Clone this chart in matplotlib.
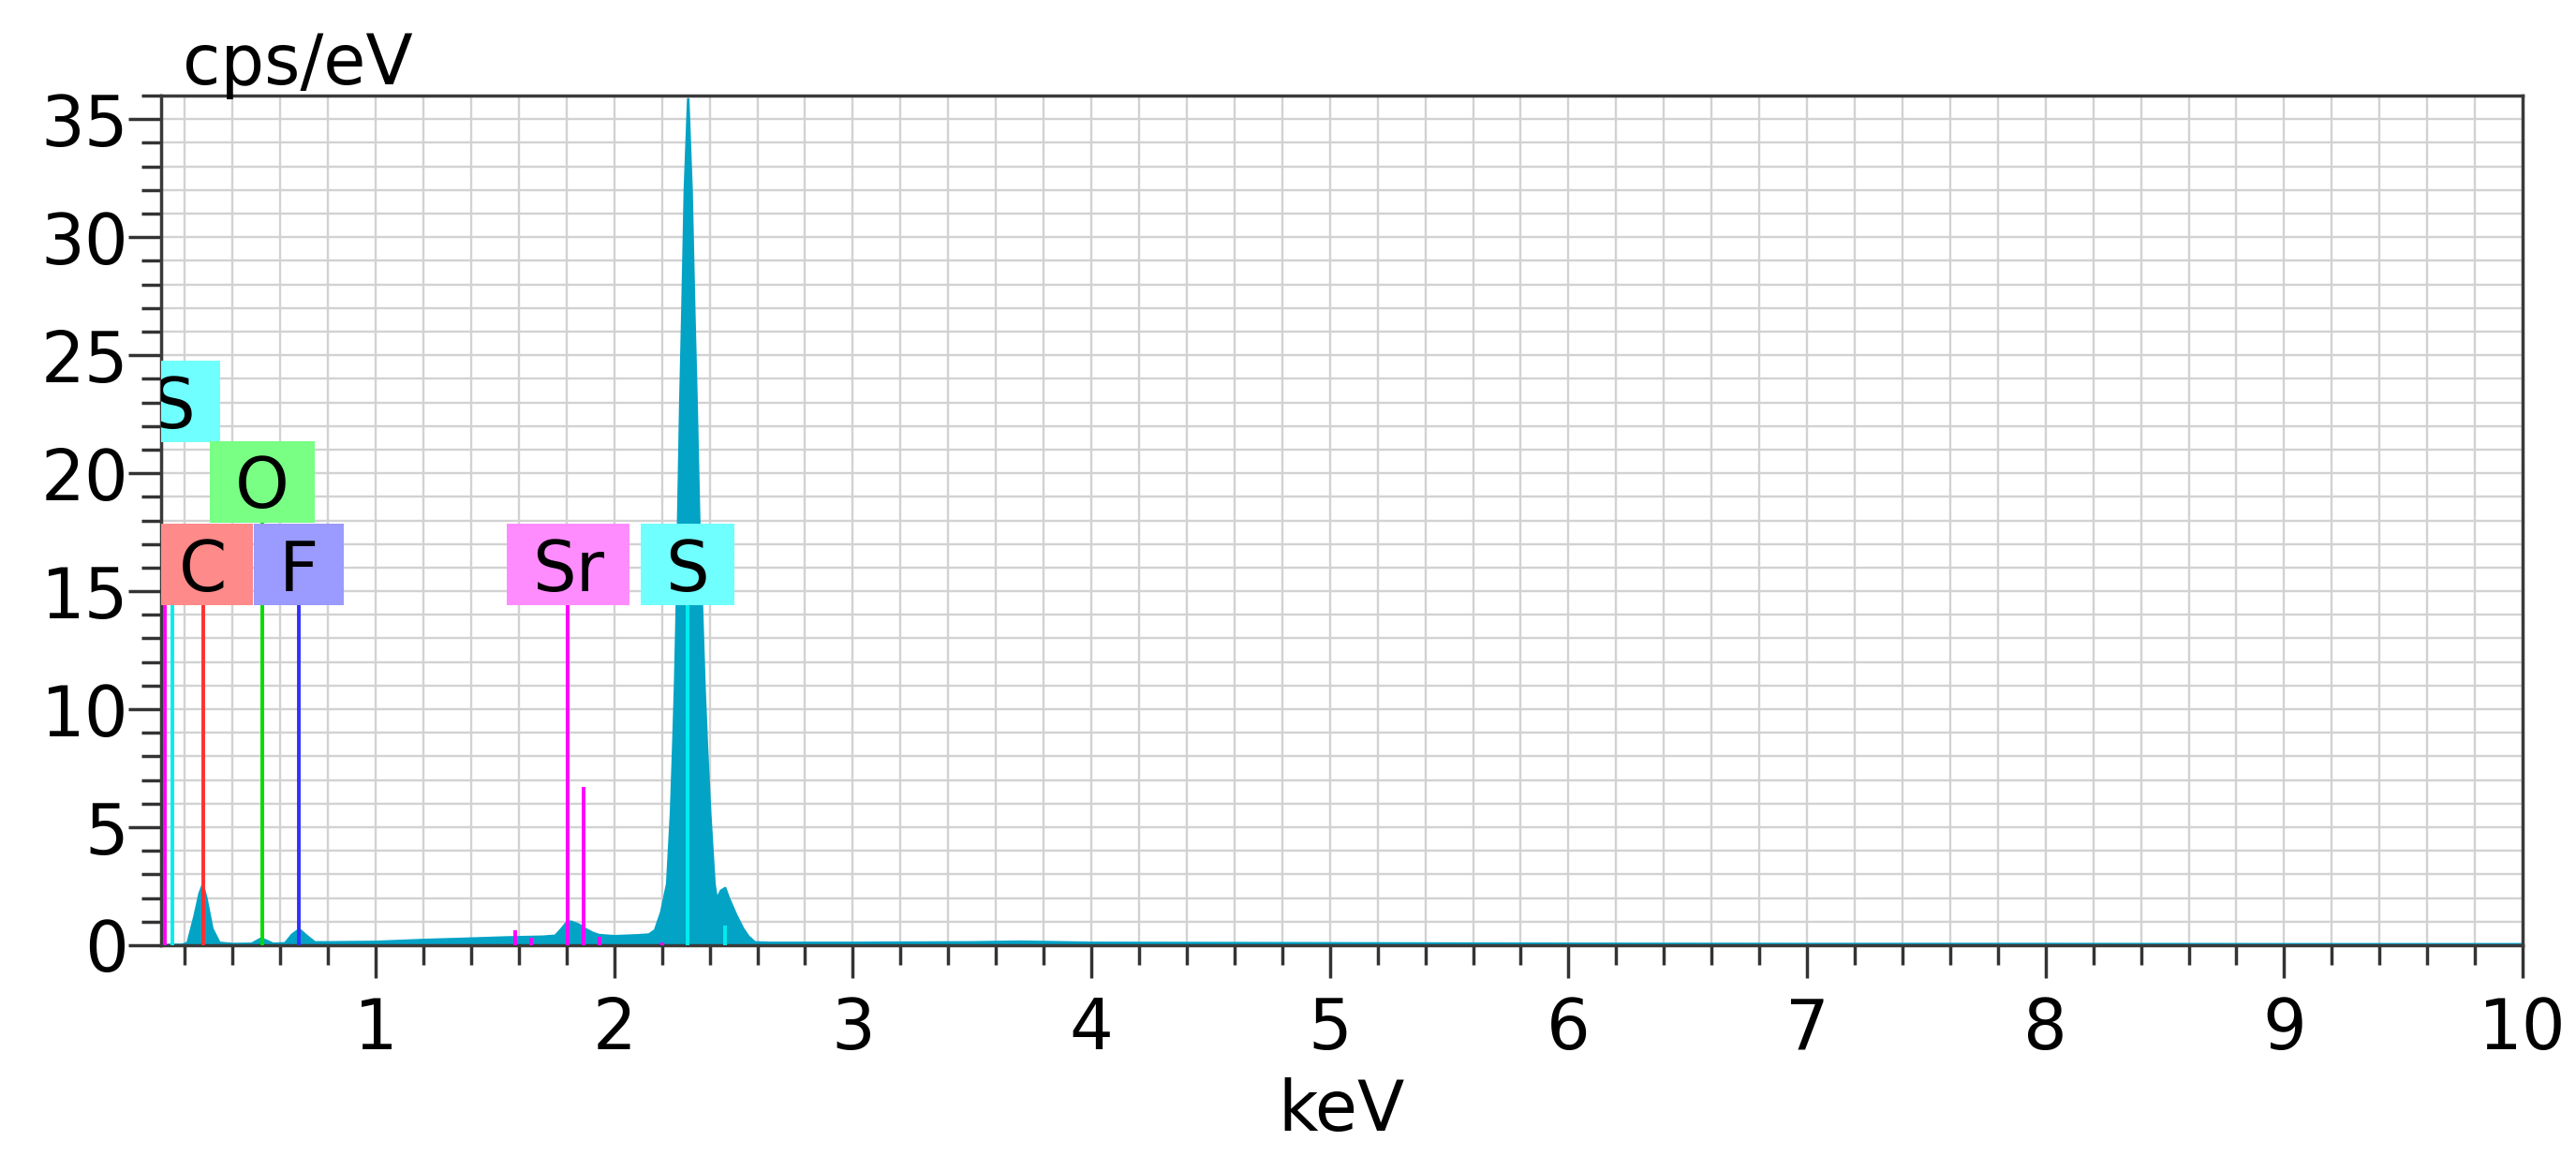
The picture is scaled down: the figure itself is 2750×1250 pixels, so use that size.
import matplotlib
matplotlib.use("Agg")
import matplotlib.pyplot as plt
from matplotlib.patches import Rectangle
from matplotlib.ticker import MultipleLocator

# EDX spectrum (keV, cps/eV)
spec_kev = [0.10, 0.19, 0.212, 0.24, 0.262, 0.275, 0.29, 0.315, 0.345, 0.40,
            0.48, 0.505, 0.52, 0.54, 0.57, 0.62, 0.65, 0.68, 0.71, 0.745,
            0.80, 1.00, 1.20, 1.40, 1.55, 1.70, 1.753, 1.78, 1.80, 1.818,
            1.85, 1.88, 1.91, 1.936, 2.00, 2.10, 2.145, 2.171, 2.197, 2.222,
            2.238, 2.247, 2.255, 2.262, 2.268, 2.277, 2.286, 2.296, 2.31, 2.324,
            2.335, 2.345, 2.356, 2.368, 2.378, 2.389, 2.402, 2.42, 2.43, 2.447,
            2.465, 2.48, 2.511, 2.54, 2.563, 2.59, 2.65, 3.00, 3.50, 3.70,
            4.00, 5.00, 6.00, 7.00, 8.00, 9.00, 10.00]
spec_cps = [0.0, 0.02, 0.1, 1.2, 2.2, 2.55, 2.0, 0.7, 0.1, 0.05,
            0.06, 0.2, 0.28, 0.2, 0.06, 0.08, 0.45, 0.67, 0.4, 0.12,
            0.12, 0.14, 0.22, 0.28, 0.33, 0.36, 0.40, 0.7, 0.95, 1.0,
            0.88, 0.68, 0.52, 0.43, 0.38, 0.42, 0.45, 0.63, 1.4, 2.6,
            5.6, 8.3, 11.0, 14.2, 18.0, 23.0, 27.0, 32.0, 35.85, 32.0,
            27.0, 23.0, 18.0, 14.2, 11.0, 8.3, 5.6, 2.6, 1.94, 2.3,
            2.42, 2.0, 1.28, 0.7, 0.36, 0.12, 0.1, 0.1, 0.12, 0.15,
            0.1, 0.08, 0.06, 0.05, 0.05, 0.04, 0.04]

# element marker lines: element, energy (keV), line top (cps/eV)
line_elem = ["Sr", "S", "C", "O", "F", "Sr", "Sr", "Sr", "Sr", "Sr", "Sr", "S", "S"]
line_kev = [0.118, 0.149, 0.277, 0.525, 0.677, 1.584, 1.65, 1.806, 1.872, 1.94, 2.20, 2.307, 2.464]
line_top = [14.4, 14.4, 14.4, 17.9, 14.4, 0.63, 0.3, 14.4, 6.7, 0.35, 0.1, 14.4, 0.83]

# element labels: text, energy, bottom of label box
label_text = ["S", "O", "C", "F", "Sr", "S"]
label_kev = [0.149, 0.525, 0.277, 0.677, 1.806, 2.307]
label_base = [21.3, 17.9, 14.4, 14.4, 14.4, 14.4]

line_colors = {"S": "#00eeee", "C": "#ff3030", "O": "#00dd00", "F": "#3030ff", "Sr": "#ff00ff"}
box_colors = {"S": "#70ffff", "C": "#ff8a8a", "O": "#78ff84", "F": "#9a9aff", "Sr": "#ff8cff"}
teal = "#03a3c6"
fs = 53

plt.rcParams["font.family"] = ["DejaVu Sans"]

fig = plt.figure(figsize=(27.5, 12.5), dpi=100)
ax = fig.add_axes([0.0625, 0.1928, 0.9168, 0.7256])
ax.set_xlim(0.1, 10)
ax.set_ylim(0, 36)

ax.xaxis.set_major_locator(MultipleLocator(1))
ax.xaxis.set_minor_locator(MultipleLocator(0.2))
ax.yaxis.set_major_locator(MultipleLocator(5))
ax.yaxis.set_minor_locator(MultipleLocator(1))
ax.set_axisbelow(True)
ax.grid(which="both", color="#d2d2d2", lw=1.7)

ax.fill_between(spec_kev, spec_cps, 0, color=teal, lw=0, zorder=2)
ax.plot(spec_kev, spec_cps, color=teal, lw=2, zorder=2)

for el, k, top in zip(line_elem, line_kev, line_top):
    ax.vlines(k, 0, top, color=line_colors[el], lw=2.8, zorder=3)

# label boxes sized from the text extent, clipped to the plot area
fig.canvas.draw()
renderer = fig.canvas.get_renderer()
px_per_kev = ax.transData.transform((1, 0))[0] - ax.transData.transform((0, 0))[0]
box_h = 3.45
pad_px = 27
for txt, k, base in zip(label_text, label_kev, label_base):
    t = ax.text(k, base + 0.62, txt, ha="center", va="baseline", fontsize=fs,
                zorder=5, clip_on=True)
    w = (t.get_window_extent(renderer).width + 2 * pad_px) / px_per_kev
    ax.add_patch(Rectangle((k - w / 2, base), w, box_h, facecolor=box_colors[txt],
                           edgecolor="none", zorder=4))

for s in ax.spines.values():
    s.set_color("#3a3a3a")
    s.set_linewidth(2.5)

ax.tick_params(which="major", length=25, width=2.5, color="#333333", labelsize=fs)
ax.tick_params(which="minor", length=15, width=2.5, color="#333333")
ax.tick_params(axis="x", which="major", pad=14)
ax.tick_params(axis="y", which="major", pad=0)

ax.set_xlabel("keV", fontsize=fs, labelpad=10)
fig.text(0.071, 0.928, "cps/eV", fontsize=fs, va="baseline", ha="left")

fig.savefig("out.png", dpi=100)
